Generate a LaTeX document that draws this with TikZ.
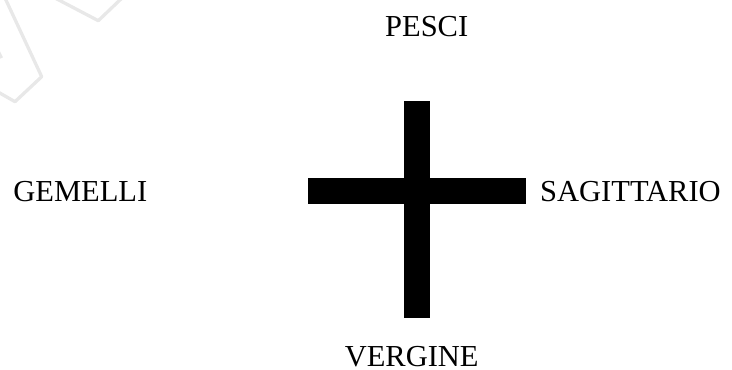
\documentclass[tikz,border=0pt]{standalone}
\usepackage{fontspec}
\setmainfont{Liberation Serif}
\usepackage{tikz}
\usetikzlibrary{positioning}
\definecolor{CrossBlack}{RGB}{0,0,0}
\definecolor{MarkGray}{RGB}{232,232,232}

\begin{document}
\begin{tikzpicture}[x=1pt,y=-1pt,font=\fontsize{30.5}{36}\selectfont,
    sign/.style={anchor=base,inner sep=0pt}]
      \useasboundingbox (0,0) rectangle (732,370);
      % faint mark in the corner
      \draw[MarkGray,line width=3.3pt,line join=round] (5,-2)--(41.7,76.7)--(15,101.7)--(-2,92);
      \draw[MarkGray,line width=3.3pt,line join=round] (55,-2)--(98.3,20.7)--(122,-2);
      \draw[MarkGray,line width=3.3pt] (-2,51)--(1.5,58);
      % the cross
      \fill[CrossBlack] (404.3,100.7) rectangle (430,318.3);
      \fill[CrossBlack] (308.3,178.3) rectangle (526,204);
      % the four signs
      \node[sign] (pesci) at (426.7,36) {PESCI};
      \node[sign] (gemelli) at (80.3,201.5) {GEMELLI};
      \node[sign] (sagittario) at (630.5,201.5) {SAGITTARIO};
      \node[sign] (vergine) at (411.7,366.5) {VERGINE};
    \end{tikzpicture}
\end{document}
